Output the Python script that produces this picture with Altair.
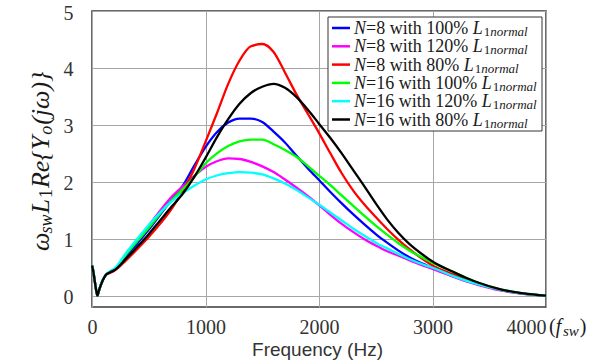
import altair as alt
import pandas as pd

# ---------------- data ----------------
freq = [0, 10, 24, 38, 48, 60, 75, 95, 125, 160,
        200, 300, 400, 500, 600, 700, 800, 900, 1000, 1100,
        1200, 1300, 1400, 1500, 1600, 1700, 1800, 1900, 2000, 2100,
        2200, 2300, 2400, 2500, 2600, 2700, 2800, 2900, 3000, 3200,
        3300, 3400, 3600, 3800, 4000]

n8_100 = [0.53, 0.44, 0.26, 0.08, 0.0, 0.08, 0.17, 0.27, 0.37, 0.41,
          0.46, 0.69, 0.92, 1.16, 1.42, 1.68, 1.93, 2.28, 2.61, 2.87,
          3.04, 3.11, 3.11, 3.05, 2.88, 2.69, 2.46, 2.24, 2.03, 1.82,
          1.62, 1.43, 1.25, 1.08, 0.93, 0.79, 0.67, 0.57, 0.49, 0.33,
          0.26, 0.20, 0.10, 0.035, 0.0]
n8_120 = [0.53, 0.44, 0.26, 0.08, 0.0, 0.08, 0.17, 0.27, 0.37, 0.42,
          0.47, 0.73, 0.98, 1.23, 1.49, 1.73, 1.92, 2.10, 2.26, 2.36,
          2.41, 2.40, 2.35, 2.27, 2.17, 2.04, 1.90, 1.75, 1.59, 1.42,
          1.26, 1.12, 0.99, 0.88, 0.78, 0.70, 0.62, 0.54, 0.47, 0.32,
          0.25, 0.19, 0.09, 0.03, 0.0]
n8_80 = [0.53, 0.44, 0.26, 0.08, 0.0, 0.08, 0.17, 0.27, 0.37, 0.40,
         0.44, 0.62, 0.82, 1.03, 1.26, 1.52, 1.84, 2.22, 2.70, 3.20,
         3.72, 4.13, 4.38, 4.42, 4.28, 3.92, 3.54, 3.20, 2.86, 2.50,
         2.15, 1.85, 1.60, 1.38, 1.17, 0.98, 0.81, 0.66, 0.53, 0.36,
         0.28, 0.21, 0.10, 0.035, 0.0]
n16_100 = [0.53, 0.44, 0.26, 0.08, 0.0, 0.08, 0.17, 0.27, 0.37, 0.42,
           0.47, 0.72, 0.96, 1.19, 1.44, 1.67, 1.87, 2.08, 2.32, 2.50,
           2.63, 2.71, 2.74, 2.74, 2.66, 2.56, 2.44, 2.28, 2.11, 1.94,
           1.76, 1.58, 1.40, 1.23, 1.07, 0.92, 0.79, 0.68, 0.58, 0.40,
           0.31, 0.23, 0.11, 0.04, 0.0]
n16_120 = [0.53, 0.44, 0.26, 0.08, 0.0, 0.08, 0.17, 0.27, 0.37, 0.43,
           0.48, 0.75, 1.00, 1.24, 1.46, 1.65, 1.80, 1.93, 2.04, 2.11,
           2.15, 2.17, 2.16, 2.13, 2.06, 1.97, 1.86, 1.73, 1.60, 1.46,
           1.32, 1.18, 1.05, 0.93, 0.83, 0.73, 0.64, 0.56, 0.49, 0.33,
           0.26, 0.20, 0.10, 0.035, 0.0]
n16_80 = [0.53, 0.44, 0.26, 0.08, 0.0, 0.08, 0.17, 0.27, 0.37, 0.41,
          0.45, 0.65, 0.86, 1.08, 1.32, 1.56, 1.79, 2.08, 2.42, 2.78,
          3.10, 3.37, 3.56, 3.67, 3.72, 3.65, 3.49, 3.27, 3.02, 2.77,
          2.50, 2.21, 1.92, 1.62, 1.34, 1.10, 0.90, 0.74, 0.60, 0.40,
          0.31, 0.23, 0.11, 0.04, 0.0]

series_names = ["N8_100", "N8_120", "N8_80", "N16_100", "N16_120", "N16_80"]
series_values = [n8_100, n8_120, n8_80, n16_100, n16_120, n16_80]
series_colors = ["#0000ff", "#ff00ff", "#ff0000", "#00ff00", "#00ffff", "#000000"]
legend_n = ["8", "8", "8", "16", "16", "16"]
legend_pct = ["100", "120", "80", "100", "120", "80"]

x_ticks = [0, 1000, 2000, 3000, 4000]
y_ticks = [0, 1, 2, 3, 4, 5]

# ---------------- layout ----------------
W, H = 454, 296
SERIF = "Liberation Serif"
SANS = "Liberation Sans"
TXT = "#1a1a1a"

# Times-compatible advance widths (em)
REG = {"=": 0.564, " ": 0.25, "w": 0.722, "i": 0.278, "t": 0.278, "h": 0.5,
       "%": 0.833, "(": 0.333, ")": 0.333}
for d in "0123456789":
    REG[d] = 0.5
ITA = {"N": 0.667, "L": 0.556, "n": 0.5, "o": 0.5, "r": 0.389, "m": 0.722,
       "a": 0.5, "l": 0.278, "s": 0.389, "w": 0.667, "R": 0.611, "e": 0.444,
       "{": 0.4, "}": 0.4, "Y": 0.556, "(": 0.333, ")": 0.333, "j": 0.278,
       "ω": 0.67, "f": 0.278}


def tw(s, style, size):
    table = ITA if style == "italic" else REG
    return sum(table.get(c, 0.5) for c in s) * size


pieces = []  # dicts: t, x, y, style, size, angle


def run(parts, x0, y0, angle=0, sub_drop=4.0):
    """parts: (text, style, size, is_sub, extra_gap_after)"""
    pos = 0.0
    for text, style, size, sub, gap in parts:
        if angle == 0:
            px, py = x0 + pos, y0 + (sub_drop if sub else 0)
        else:  # rotated 270: text runs upward
            px, py = x0 + (sub_drop if sub else 0), y0 - pos
        pieces.append(dict(t=text, x=px, y=py, style=style, size=size, angle=angle))
        pos += tw(text, style, size) + gap


# legend entries
leg_rows = [17 + 18.3 * i for i in range(len(series_names))]
for n, p, ry in zip(legend_n, legend_pct, leg_rows):
    run([("N", "italic", 18, False, 0),
         ("=" + n + " with " + p + "% ", "normal", 18, False, 0),
         ("L", "italic", 18, False, 1),
         ("1", "normal", 13, True, 0),
         ("normal", "italic", 13, True, 0)], 262, ry + 6, sub_drop=2)

# y title (rotated)
run([("ω", "italic", 26, False, 0), ("sw", "italic", 18, True, 1),
     ("L", "italic", 26, False, 1), ("1", "normal", 18, True, 1),
     ("Re{Y", "italic", 26, False, 1), ("o", "italic", 18, True, 1),
     ("(jω)}", "italic", 26, False, 0)], -43, 240, angle=270, sub_drop=3)

# x unit "(f_sw)"
run([("(", "normal", 20, False, 0), ("f", "italic", 20, False, 0)], 457, 322)
run([("sw", "italic", 15, True, 1), (")", "normal", 20, False, 0)], 471, 322, sub_drop=3)

# ---------------- chart ----------------
rows = []
for name, vals in zip(series_names, series_values):
    for f, v in zip(freq, vals):
        rows.append({"series": name, "freq": f, "value": v})
df = pd.DataFrame(rows)

color_scale = alt.Scale(domain=series_names, range=series_colors)
x_scale = alt.Scale(domain=[0, 4000], nice=False, zero=False)
y_scale = alt.Scale(domain=[-0.2, 5], nice=False, zero=False)

x_axis = alt.Axis(values=x_ticks, format="d", title="Frequency (Hz)", grid=True,
                  gridColor="#a6a6a6", gridWidth=1, ticks=False, tickSize=0,
                  domain=False, labelFont=SERIF, labelFontSize=20, labelColor="#333333",
                  labelPadding=10, labelFlush=False, labelOverlap=False,
                  labelAlign={"condition": {"test": "datum.value == 4000", "value": "right"},
                              "value": "center"},
                  titleFont=SANS, titleFontSize=19, titleFontWeight="normal",
                  titleColor="#333333", titleX=225, titleY=48,
                  titleBaseline="alphabetic", titleAlign="center")
y_axis = alt.Axis(values=y_ticks, format="d", title=None, grid=True,
                  gridColor="#a6a6a6", gridWidth=1, ticks=False, tickSize=0,
                  domain=False, labelFont=SERIF, labelFontSize=20, labelColor="#333333",
                  labelPadding=19, labelOffset=2, labelFlush=False, labelOverlap=False)

layers = []
for name in series_names:
    layers.append(
        alt.Chart(df).transform_filter(alt.datum.series == name)
        .mark_line(strokeWidth=2.3, interpolate="monotone")
        .encode(x=alt.X("freq:Q", scale=x_scale, axis=x_axis),
                y=alt.Y("value:Q", scale=y_scale, axis=y_axis),
                color=alt.Color("series:N", scale=color_scale, legend=None))
    )

# legend box and swatches
box = pd.DataFrame({"x": [236], "x2": [450], "y": [6], "y2": [120]})
layers.append(
    alt.Chart(box).mark_rect(fill="white", stroke="#333333", strokeWidth=1)
    .encode(x=alt.X("x:Q", scale=None, axis=None), x2="x2",
            y=alt.Y("y:Q", scale=None, axis=None), y2="y2")
)
sw = pd.DataFrame({"series": series_names, "x": [240] * 6, "x2": [258] * 6, "y": leg_rows})
layers.append(
    alt.Chart(sw).mark_rule(strokeWidth=2.5)
    .encode(x=alt.X("x:Q", scale=None, axis=None), x2="x2",
            y=alt.Y("y:Q", scale=None, axis=None),
            color=alt.Color("series:N", scale=color_scale, legend=None))
)

pdf = pd.DataFrame(pieces)
for (style, size, angle), g in pdf.groupby(["style", "size", "angle"]):
    layers.append(
        alt.Chart(g[["t", "x", "y"]].reset_index(drop=True))
        .mark_text(align="left", baseline="alphabetic", font=SERIF, fontStyle=style,
                   fontSize=float(size), angle=float(angle), color=TXT)
        .encode(x=alt.X("x:Q", scale=None, axis=None),
                y=alt.Y("y:Q", scale=None, axis=None),
                text="t:N")
    )

chart = (
    alt.layer(*layers)
    .properties(width=W, height=H, autosize=alt.AutoSizeParams(type="none"),
                padding={"left": 92, "top": 11, "right": 51, "bottom": 53},
                background="white")
    .configure_view(stroke="#3a3a3a", strokeWidth=1.5)
)

chart.save("out.html", embed_options={"renderer": "svg", "actions": False})
